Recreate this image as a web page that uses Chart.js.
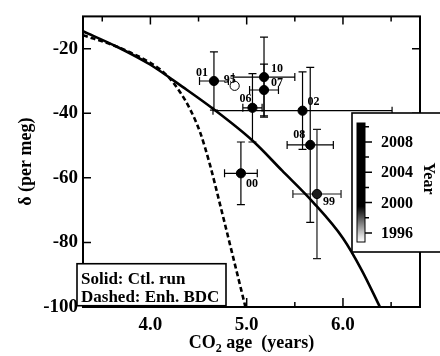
<!DOCTYPE html>
<html><head><meta charset="utf-8">
<script src="https://cdn.jsdelivr.net/npm/chart.js@4/dist/chart.umd.min.js"></script>
<style>html,body{margin:0;padding:0;background:#fff}#wrap{width:440px;height:356px;position:relative}canvas{display:block}</style>
</head><body><div id="wrap"><canvas id="c" width="440" height="356" style="width:440px;height:356px"></canvas></div>
<script>
// ---- data ----
const pointLabels = ['01','95','10','07','06','02','08','00','99'];
const pointYears  = [2001,1995,2010,2007,2006,2002,2008,2000,1999];
const ageX        = [4.66,4.875,5.18,5.18,5.06,5.58,5.66,4.94,5.73];
const deltaY      = [-30.0,-31.5,-28.8,-32.8,-38.3,-39.2,-49.8,-58.6,-65.0];
const ageErr      = [0.15,0,0.32,0.15,0.10,0.93,0.24,0.17,0.25];
const deltaErr    = [9,0,12.4,8,10.6,12,24,9.7,20];

const solidX = [3.30,3.653,3.996,4.338,4.650,5.065,5.366,5.688,6.000,6.197,6.384];
const solidY = [-14.6,-19.4,-24.9,-31.9,-38.6,-48.6,-57.7,-67.5,-78.7,-88.7,-100];
const dashX  = [3.300,3.653,3.996,4.100,4.203,4.307,4.411,4.515,4.619,4.723,4.847,4.987];
const dashY  = [-15.8,-19.4,-24.3,-26.4,-29.3,-33.4,-38.7,-45.8,-56.0,-68.2,-83.1,-100];

const xTicks = [4.0,5.0,6.0];
const xMinorTicks = [3.5,4.5,5.5,6.5];
const yTicks = [-100,-80,-60,-40,-20];
const yearTicks = [1996,2000,2004,2008];
const yearMinorTicks = [1998,2002,2006,2010];
const yearRange = [1994.8,2010.5];
const legendLines = ['Solid: Ctl. run','Dashed: Enh. BDC'];

// ---- styling helpers ----
const SERIF = '"Liberation Serif","Times New Roman",serif';
function yearGray(y){
  let t = (y-1995)/(1999.5-1995); t=Math.max(0,Math.min(1,t));
  const g = Math.round(255*(1-t));
  return 'rgb('+g+','+g+','+g+')';
}
const labelOffsets = { // label placement relative to marker (px)
  '01':[-18,-5,'left'], '95':[-11,-3,'left'], '10':[7,-5,'left'], '07':[7,-4,'left'],
  '06':[-13,-6,'left'], '02':[5,-6,'left'], '08':[-17,-7,'left'], '00':[5,14,'left'], '99':[6,11,'left']
};

const errorBars = {
  id:'errorBars',
  beforeDatasetsDraw(chart){
    const {ctx, scales:{x,y}} = chart;
    ctx.save(); ctx.lineWidth=1.2;
    for(let i=0;i<ageX.length;i++){
      const col = yearGray(pointYears[i]);
      if(col==='rgb(255,255,255)') continue;
      ctx.strokeStyle = col;
      const px=x.getPixelForValue(ageX[i]), py=y.getPixelForValue(deltaY[i]);
      if(deltaErr[i]>0){
        const t=y.getPixelForValue(deltaY[i]+deltaErr[i]), b=y.getPixelForValue(deltaY[i]-deltaErr[i]);
        ctx.beginPath(); ctx.moveTo(px,t); ctx.lineTo(px,b);
        ctx.moveTo(px-4,t); ctx.lineTo(px+4,t); ctx.moveTo(px-4,b); ctx.lineTo(px+4,b); ctx.stroke();
      }
      if(ageErr[i]>0){
        const l=x.getPixelForValue(ageX[i]-ageErr[i]), r=x.getPixelForValue(ageX[i]+ageErr[i]);
        ctx.beginPath(); ctx.moveTo(l,py); ctx.lineTo(r,py);
        ctx.moveTo(l,py-4); ctx.lineTo(l,py+4); ctx.moveTo(r,py-4); ctx.lineTo(r,py+4); ctx.stroke();
      }
    }
    ctx.restore();
  }
};

const decor = {
  id:'decor',
  afterDraw(chart){
    const {ctx, chartArea:a, scales:{x,y}} = chart;
    ctx.save();
    // frame
    ctx.strokeStyle='#000'; ctx.lineWidth=2;
    ctx.strokeRect(a.left,a.top,a.right-a.left,a.bottom-a.top);
    // ticks inward
    ctx.lineWidth=1.5;
    ctx.beginPath();
    xTicks.forEach(v=>{const p=x.getPixelForValue(v);
      ctx.moveTo(p,a.bottom); ctx.lineTo(p,a.bottom-9); ctx.moveTo(p,a.top); ctx.lineTo(p,a.top+8);});
    xMinorTicks.forEach(v=>{const p=x.getPixelForValue(v);
      ctx.moveTo(p,a.bottom); ctx.lineTo(p,a.bottom-5); ctx.moveTo(p,a.top); ctx.lineTo(p,a.top+5);});
    yTicks.forEach(v=>{const p=y.getPixelForValue(v);
      ctx.moveTo(a.left,p); ctx.lineTo(a.left+8,p); ctx.moveTo(a.right,p); ctx.lineTo(a.right-8,p);});
    ctx.stroke();
    // point labels
    ctx.fillStyle='#000'; ctx.font='bold 12px '+SERIF; ctx.textBaseline='alphabetic';
    pointLabels.forEach((lab,i)=>{
      const o=labelOffsets[lab]; ctx.textAlign=o[2];
      ctx.fillText(lab, x.getPixelForValue(ageX[i])+o[0], y.getPixelForValue(deltaY[i])+o[1]);
    });
    // legend box
    const lx=a.left-6, ly=y.getPixelForValue(-86.6), lw=149, lh=42;
    ctx.fillStyle='#fff'; ctx.fillRect(lx,ly,lw,lh);
    ctx.lineWidth=1.6; ctx.strokeStyle='#000'; ctx.strokeRect(lx,ly,lw,lh);
    ctx.fillStyle='#000'; ctx.font='bold 17px '+SERIF; ctx.textAlign='left';
    ctx.fillText(legendLines[0], lx+4, ly+20);
    ctx.fillText(legendLines[1], lx+4, ly+38);
    // colorbar inset
    const bx=352, by=113, bw=100, bh=139;
    ctx.fillStyle='#fff'; ctx.fillRect(bx,by,bw,bh);
    ctx.lineWidth=1.6; ctx.strokeRect(bx,by,bw,bh);
    const cbTop=123, cbBot=242, cbL=357, cbW=8;
    const yr = v => cbBot - (v-yearRange[0])/(yearRange[1]-yearRange[0])*(cbBot-cbTop);
    const grad = ctx.createLinearGradient(0,cbBot,0,cbTop);
    for(let s=0;s<=20;s++){const v=yearRange[0]+s/20*(yearRange[1]-yearRange[0]);
      grad.addColorStop(s/20, yearGray(v));}
    ctx.fillStyle=grad; ctx.fillRect(cbL,cbTop,cbW,cbBot-cbTop);
    ctx.lineWidth=1; ctx.strokeRect(cbL,cbTop,cbW,cbBot-cbTop);
    ctx.lineWidth=1.5; ctx.beginPath();
    yearTicks.forEach(v=>{ctx.moveTo(cbL+cbW,yr(v)); ctx.lineTo(cbL+cbW+7,yr(v));});
    yearMinorTicks.forEach(v=>{ctx.moveTo(cbL+cbW,yr(v)); ctx.lineTo(cbL+cbW+4,yr(v));});
    ctx.stroke();
    ctx.fillStyle='#000'; ctx.font='bold 16px '+SERIF; ctx.textAlign='left'; ctx.textBaseline='middle';
    yearTicks.forEach(v=>ctx.fillText(String(v), cbL+cbW+16, yr(v)+1));
    ctx.save(); ctx.translate(428,(cbTop+cbBot)/2-4); ctx.rotate(Math.PI/2);
    ctx.textAlign='center'; ctx.fillText('Year',0,0); ctx.restore();
    // axis titles
    ctx.textBaseline='alphabetic';
    const cx=(a.left+a.right)/2, ty=348;
    const parts=['CO','2',' age  (years)'];
    ctx.font='bold 18px '+SERIF; const w0=ctx.measureText(parts[0]).width, w2=ctx.measureText(parts[2]).width;
    ctx.font='bold 12px '+SERIF; const w1=ctx.measureText(parts[1]).width;
    let sx=cx-(w0+w1+w2)/2; ctx.textAlign='left';
    ctx.font='bold 18px '+SERIF; ctx.fillText(parts[0],sx,ty); sx+=w0;
    ctx.font='bold 12px '+SERIF; ctx.fillText(parts[1],sx,ty+4); sx+=w1;
    ctx.font='bold 18px '+SERIF; ctx.fillText(parts[2],sx,ty);
    ctx.save(); ctx.translate(31,(a.top+a.bottom)/2); ctx.rotate(-Math.PI/2);
    ctx.textAlign='center'; ctx.fillText('δ (per meg)',0,0); ctx.restore();
    ctx.restore();
  }
};

const toXY=(xs,ys)=>xs.map((v,i)=>({x:v,y:ys[i]}));

new Chart(document.getElementById('c'),{
  type:'scatter',
  data:{datasets:[
    {type:'scatter', data:toXY(ageX,deltaY), pointRadius:4.6, pointHoverRadius:4.6,
     backgroundColor:pointYears.map(yearGray), borderColor:'#000', borderWidth:1, order:0},
    {type:'line', data:toXY(solidX,solidY), borderColor:'#000', borderWidth:2.6, pointRadius:0,
     cubicInterpolationMode:'monotone', fill:false, order:1},
    {type:'line', data:toXY(dashX,dashY), borderColor:'#000', borderWidth:2.6, borderDash:[5,3], pointRadius:0,
     cubicInterpolationMode:'monotone', fill:false, order:2}
  ]},
  plugins:[errorBars, decor],
  options:{
    responsive:false, animation:false, devicePixelRatio:1,
    layout:{padding:{left:0,top:11,right:20,bottom:0}},
    plugins:{legend:{display:false}, tooltip:{enabled:false}},
    scales:{
      x:{type:'linear', min:3.3, max:6.8,
         grid:{display:false, drawTicks:false}, border:{display:false},
         afterBuildTicks:s=>{s.ticks=xTicks.map(v=>({value:v}));},
         afterFit:s=>{s.height=49;},
         ticks:{padding:7, color:'#000', font:{family:SERIF, size:19, weight:'bold'}, callback:v=>Number(v).toFixed(1), maxRotation:0}},
      y:{type:'linear', min:-100, max:-10,
         grid:{display:false, drawTicks:false}, border:{display:false},
         afterBuildTicks:s=>{s.ticks=yTicks.map(v=>({value:v}));},
         afterFit:s=>{s.width=83;},
         ticks:{padding:5, color:'#000', font:{family:SERIF, size:19, weight:'bold'}}}
    }
  }
});
</script></body></html>
